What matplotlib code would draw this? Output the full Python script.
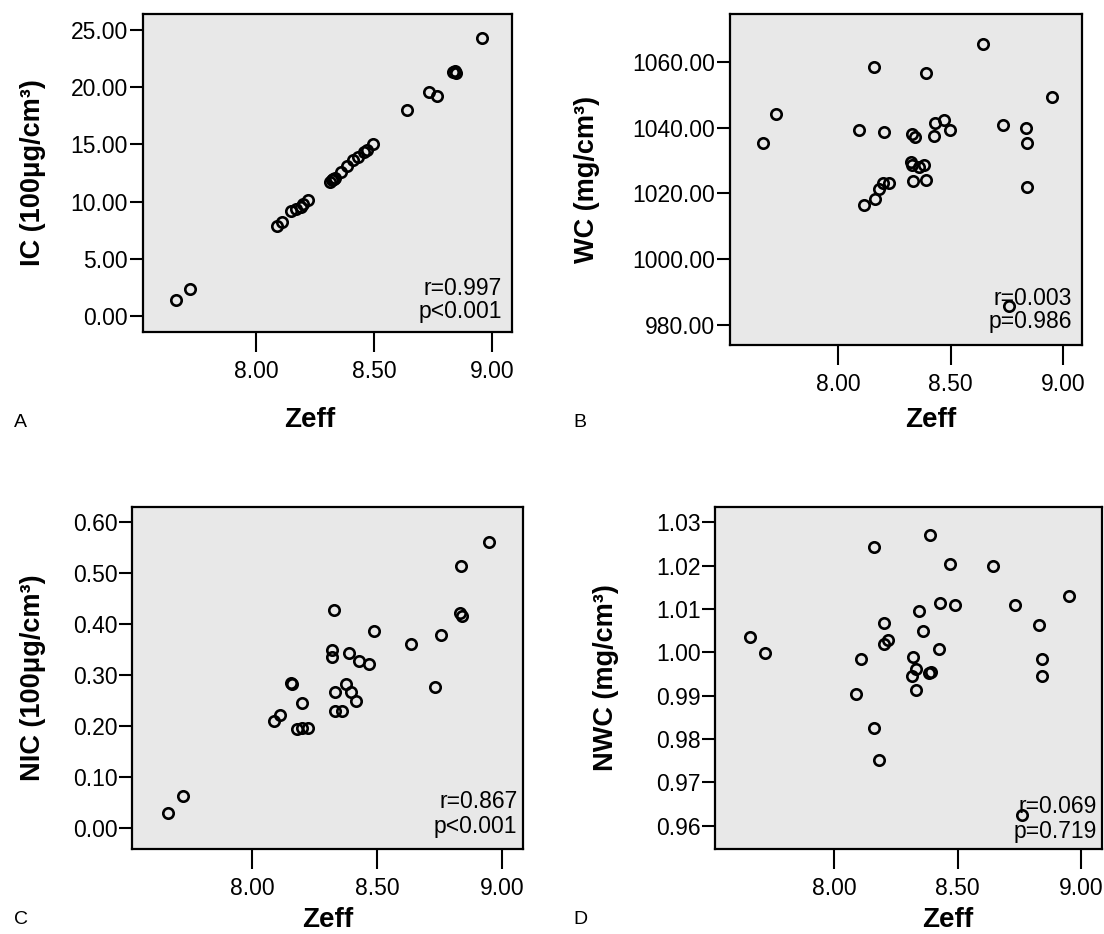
import matplotlib
matplotlib.use("Agg")
import matplotlib.pyplot as plt
from matplotlib.ticker import FormatStrFormatter

plt.rcParams['font.family'] = ['Liberation Sans', 'DejaVu Sans']

# Panel A: IC vs Zeff
zeff_a = [7.66, 7.72, 8.09, 8.11, 8.15, 8.17, 8.19, 8.20, 8.22, 8.315, 8.32, 8.325, 8.33,
          8.335, 8.36, 8.385, 8.41, 8.43, 8.455, 8.47, 8.495, 8.64, 8.73, 8.765, 8.835,
          8.84, 8.845, 8.955]
ic = [1.40, 2.34, 7.9, 8.2, 9.2, 9.35, 9.5, 9.8, 10.1, 11.7, 11.85, 12.0, 11.95,
      12.1, 12.6, 13.15, 13.6, 13.9, 14.3, 14.5, 15.05, 18.05, 19.6, 19.2, 21.3,
      21.4, 21.2, 24.27]

# Panel B: WC vs Zeff
zeff_b = [7.665, 7.724, 8.094, 8.113, 8.16, 8.164, 8.18, 8.20, 8.226, 8.204, 8.329, 8.34,
          8.322, 8.329, 8.358, 8.38, 8.333, 8.39, 8.39, 8.424, 8.43, 8.47, 8.495, 8.642,
          8.733, 8.833, 8.84, 8.84, 8.95, 8.76]
wc = [1035.3, 1044.3, 1039.2, 1016.5, 1058.4, 1018.4, 1021.3, 1023.1, 1023.3, 1038.6,
      1038.0, 1037.2, 1029.7, 1028.7, 1028.2, 1028.7, 1023.7, 1024.2, 1056.6, 1037.6,
      1041.4, 1042.2, 1039.4, 1065.5, 1040.7, 1039.9, 1035.3, 1022.1, 1049.3, 985.8]

# Panel C: NIC vs Zeff
zeff_c = [7.663, 7.723, 8.089, 8.112, 8.158, 8.162, 8.18, 8.20, 8.225, 8.202, 8.329,
          8.321, 8.321, 8.332, 8.332, 8.362, 8.389, 8.378, 8.398, 8.418, 8.429, 8.469,
          8.489, 8.638, 8.731, 8.758, 8.838, 8.831, 8.842, 8.948]
nic = [0.030, 0.063, 0.210, 0.221, 0.285, 0.282, 0.195, 0.197, 0.197, 0.246, 0.428,
       0.348, 0.336, 0.267, 0.230, 0.230, 0.343, 0.282, 0.267, 0.248, 0.328, 0.321,
       0.386, 0.360, 0.276, 0.379, 0.513, 0.421, 0.416, 0.560]

# Panel D: NWC vs Zeff
zeff_d = [7.662, 7.723, 8.091, 8.111, 8.162, 8.162, 8.181, 8.201, 8.201, 8.218, 8.319,
          8.33, 8.316, 8.33, 8.343, 8.359, 8.383, 8.393, 8.39, 8.424, 8.429, 8.469,
          8.491, 8.641, 8.731, 8.828, 8.839, 8.839, 8.949, 8.761]
nwc = [1.0036, 0.9999, 0.9904, 0.9984, 1.0242, 0.9826, 0.9752, 1.0067, 1.0019, 1.0028,
       0.9990, 0.9961, 0.9945, 0.9913, 1.0094, 1.0049, 0.9952, 0.9955, 1.0271, 1.0007,
       1.0113, 1.0203, 1.0109, 1.0198, 1.0108, 1.0063, 0.9985, 0.9945, 1.0130, 0.9625]

xticks = [8.0, 8.5, 9.0]

W, H = 1104, 934
fig = plt.figure(figsize=(W / 100, H / 100), dpi=100)


def px_axes(left, top, right, bottom):
    return fig.add_axes([left / W, 1 - bottom / H, (right - left) / W, (bottom - top) / H])


panels = [
    dict(x=zeff_a, y=ic, box=(142.6, 14, 512, 332), ylim=(-1.4, 26.4),
         yticks=[0, 5, 10, 15, 20, 25], ylabel='IC (100μg/cm³)', labx=46,
         stats=('r=0.997', 'p<0.001'), off=(-10, 37, 14), letter='A', lpos=(14, 427),
         zpos=(310, 427)),
    dict(x=zeff_b, y=wc, box=(730, 14, 1082, 345), ylim=(973.9, 1074.6),
         yticks=[980, 1000, 1020, 1040, 1060], ylabel='WC (mg/cm³)', labx=600,
         stats=('r=0.003', 'p=0.986'), off=(-10, 40, 17), letter='B', lpos=(573, 427),
         zpos=(931, 427)),
    dict(x=zeff_c, y=nic, box=(132, 507, 522.5, 849), ylim=(-0.041, 0.629),
         yticks=[0, 0.1, 0.2, 0.3, 0.4, 0.5, 0.6], ylabel='NIC (100μg/cm³)', labx=46,
         stats=('r=0.867', 'p<0.001'), off=(-5, 41, 16), letter='C', lpos=(14, 924),
         zpos=(328, 927)),
    dict(x=zeff_d, y=nwc, box=(715, 507, 1102, 849), ylim=(0.9546, 1.0335),
         yticks=[0.96, 0.97, 0.98, 0.99, 1.00, 1.01, 1.02, 1.03], ylabel='NWC (mg/cm³)',
         labx=619, stats=('r=0.069', 'p=0.719'), off=(-5, 36, 11), letter='D',
         lpos=(573, 924), zpos=(948, 927)),
]

for p in panels:
    l, t, r, b = p['box']
    ax = px_axes(l, t, r, b)
    ax.set_facecolor('#e8e8e8')
    ax.plot(p['x'], p['y'], ls='none', marker='o', ms=7.5, mfc='none', mec='black', mew=1.9)
    ax.set_xlim(7.52, 9.083)
    ax.set_ylim(*p['ylim'])
    ax.set_xticks(xticks)
    ax.set_yticks(p['yticks'])
    ax.xaxis.set_major_formatter(FormatStrFormatter('%.2f'))
    ax.yaxis.set_major_formatter(FormatStrFormatter('%.2f'))
    for s in ax.spines.values():
        s.set_linewidth(1.6)
        s.set_color('black')
    ax.tick_params(axis='x', length=14.5, width=1.5, pad=6, labelsize=16.5)
    ax.tick_params(axis='y', length=9.5, width=1.5, pad=1, labelsize=16.5)
    ax.set_ylabel(p['ylabel'], fontsize=19.5, fontweight='bold')
    ax.yaxis.set_label_coords((p['labx'] - l) / (r - l), 0.5)

    dx, ry, py = p['off']
    ax.annotate(p['stats'][0], xy=(1, 0), xycoords='axes fraction', xytext=(dx, ry),
                textcoords='offset pixels', ha='right', va='baseline', fontsize=16.5)
    ax.annotate(p['stats'][1], xy=(1, 0), xycoords='axes fraction', xytext=(dx, py),
                textcoords='offset pixels', ha='right', va='baseline', fontsize=16.5)

    fig.text(p['zpos'][0] / W, 1 - p['zpos'][1] / H, 'Zeff', ha='center', va='baseline',
             fontsize=20, fontweight='bold')
    fig.text(p['lpos'][0] / W, 1 - p['lpos'][1] / H, p['letter'], ha='left', va='baseline',
             fontsize=14)

fig.savefig('out.png', dpi=100)
